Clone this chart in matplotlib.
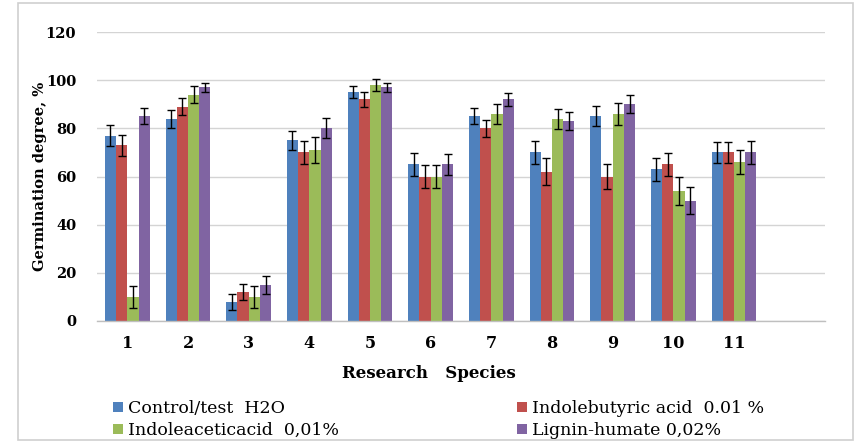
import matplotlib
matplotlib.use("Agg")
import matplotlib.pyplot as plt
import numpy as np
from matplotlib.patches import Patch, Rectangle

categories = ['1', '2', '3', '4', '5', '6', '7', '8', '9', '10', '11']
series_names = ['Control/test  H2O', 'Indolebutyric acid  0.01 %',
                'Indoleaceticacid  0,01%', 'Lignin-humate 0,02%']
control = [77, 84, 8, 75, 95, 65, 85, 70, 85, 63, 70]
iba = [73, 89, 12, 70, 92, 60, 80, 62, 60, 65, 70]
iaa = [10, 94, 10, 71, 98, 60, 86, 84, 86, 54, 66]
lignin = [85, 97, 15, 80, 97, 65, 92, 83, 90, 50, 70]
control_err = [4.5, 3.7, 3.3, 4.1, 2.5, 4.8, 3.4, 4.9, 4.1, 4.8, 4.5]
iba_err = [4.4, 3.4, 3.4, 4.8, 3.2, 4.8, 3.4, 5.5, 5.2, 4.7, 4.5]
iaa_err = [4.4, 3.4, 4.4, 5.5, 2.3, 4.8, 4.1, 4.1, 4.5, 6.0, 4.8]
lignin_err = [3.4, 2.0, 3.8, 4.1, 2.0, 4.4, 2.7, 3.6, 3.7, 5.5, 4.9]
y_ticks = [0, 20, 40, 60, 80, 100, 120]

colors = ['#4F81BD', '#C0504D', '#9BBB59', '#8064A2']
serif = ['DejaVu Serif']

fig = plt.figure(figsize=(8.56, 4.42), dpi=100)
fig.patch.set_facecolor('white')
fig.add_artist(Rectangle((18 / 856, 2 / 442), (853 - 18) / 856, (439 - 2) / 442,
                         transform=fig.transFigure, fill=False,
                         edgecolor='#cfcfcf', linewidth=1.2))

ax = fig.add_axes([97 / 856, 1 - 321 / 442, (825 - 97) / 856, (321 - 32) / 442])

x = np.arange(len(categories))
bw = 0.185
data = [control, iba, iaa, lignin]
errs = [control_err, iba_err, iaa_err, lignin_err]
for i, (vals, e, c) in enumerate(zip(data, errs, colors)):
    ax.bar(x + (i - 1.5) * bw, vals, width=bw, color=c, zorder=2,
           yerr=e, error_kw=dict(ecolor='black', elinewidth=1, capsize=3,
                                 capthick=1, zorder=3))

ax.set_xlim(-0.5, 11.5)
ax.set_ylim(0, 120)
ax.set_yticks(y_ticks)
ax.set_yticklabels([str(t) for t in y_ticks], fontfamily=serif,
                   fontweight='bold', fontsize=10.5)
ax.set_xticks(x)
ax.set_xticklabels(categories, fontfamily=serif, fontweight='bold', fontsize=11.5)
ax.tick_params(axis='both', length=0)
ax.tick_params(axis='y', pad=15)
ax.tick_params(axis='x', pad=10)
ax.yaxis.grid(True, color='#d4d4d4', linewidth=1, zorder=0)
ax.set_axisbelow(True)
for s in ['top', 'right', 'left']:
    ax.spines[s].set_visible(False)
ax.spines['bottom'].set_color('#bfbfbf')
ax.spines['bottom'].set_linewidth(1)

ax.set_ylabel('Germination degree, %', fontfamily=serif, fontweight='bold',
              fontsize=10.5)
ax.yaxis.set_label_coords(-(97 - 47) / 728, 0.5)
ax.set_xlabel('Research   Species', fontfamily=serif, fontweight='bold',
              fontsize=12)
ax.xaxis.set_label_coords((429 - 97) / 728, -(365 - 321) / 289)

handles = [Patch(facecolor=c, edgecolor='none') for c in colors]
kw = dict(frameon=False, prop={'family': serif, 'size': 12.5},
          handlelength=0.55, handleheight=0.55, handletextpad=0.3,
          labelspacing=0.3, borderpad=0, borderaxespad=0, loc='upper left')
leg1 = fig.legend([handles[0], handles[2]], [series_names[0], series_names[2]],
                  bbox_to_anchor=(113 / 856, 1 - 400 / 442), **kw)
leg2 = fig.legend([handles[1], handles[3]], [series_names[1], series_names[3]],
                  bbox_to_anchor=(517 / 856, 1 - 400 / 442), **kw)

fig.savefig('out.png', dpi=100)
